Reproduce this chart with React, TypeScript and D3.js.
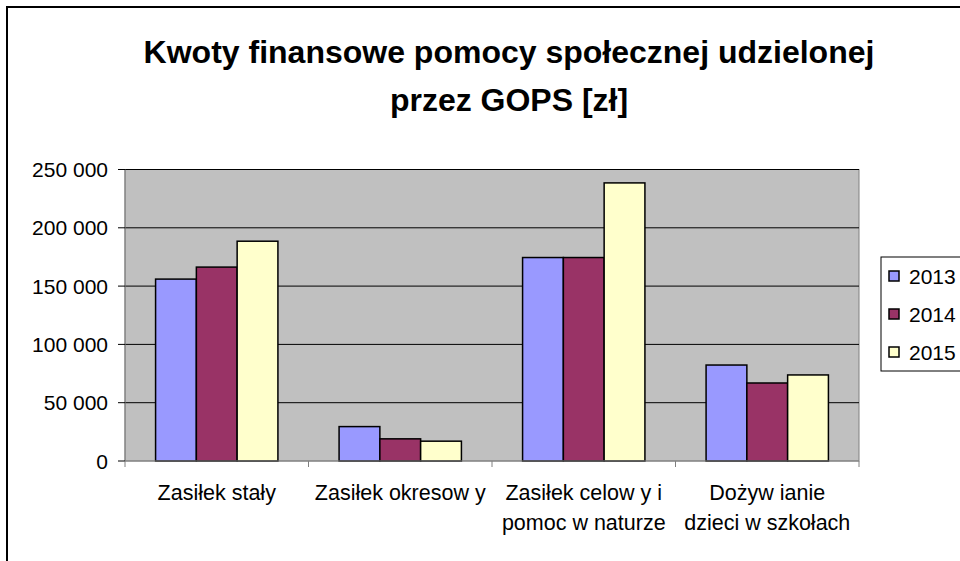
import React from "react";
import * as d3 from "d3";

const categories: string[][] = [
  ["Zasiłek stały"],
  ["Zasiłek okresow y"],
  ["Zasiłek celow y i", "pomoc w  naturze"],
  ["Dożyw ianie", "dzieci w  szkołach"],
];
const seriesNames = ["2013", "2014", "2015"];
const values2013 = [156000, 29500, 174500, 82300];
const values2014 = [166300, 19000, 174500, 66900];
const values2015 = [188500, 17000, 238500, 73800];
const seriesColors = ["#9999FF", "#993366", "#FFFFCC"];
const yTicks = [0, 50000, 100000, 150000, 200000, 250000];
const titleLines = ["Kwoty finansowe pomocy społecznej udzielonej", "przez GOPS [zł]"];

const W = 960;
const H = 561;
const FONT = "'Liberation Sans', Arial, sans-serif";

export default function App() {
  const left = 125, right = 859, top = 169.5, bottom = 461;
  const series = [values2013, values2014, values2015];
  const catIdx = categories.map((_, i) => String(i));
  const x = d3.scaleBand<string>().domain(catIdx).range([left, right]).padding(0);
  const xs = d3.scaleBand<string>().domain(seriesNames).range([0, x.bandwidth()]).paddingInner(0).paddingOuter(0.75);
  const y = d3.scaleLinear().domain([0, 250000]).range([bottom, top]);
  const fmt = (v: number) => d3.format(",")(v).replace(/,/g, " ");
  const boundaries = d3.range(categories.length + 1).map((i) => left + i * x.step());

  return (
    <svg width={W} height={H} style={{ position: "absolute", left: 0, top: 0, background: "#fff" }} fontFamily={FONT}>
      <rect x={7} y={7} width={1000} height={600} fill="#fff" stroke="#000" strokeWidth={2} />
      {titleLines.map((t, i) => (
        <text key={i} x={509} y={63 + i * 48} textAnchor="middle" fontSize={32} fontWeight="bold" fill="#000">
          {t}
        </text>
      ))}
      <rect x={left} y={top} width={right - left} height={bottom - top} fill="#C0C0C0" stroke="#808080" strokeWidth={1} />
      {yTicks.filter((t) => t > 0).map((t) => (
        <line key={t} x1={left} x2={right} y1={y(t)} y2={y(t)} stroke="#000" strokeWidth={1} />
      ))}
      {categories.map((_, ci) =>
        series.map((vals, si) => (
          <rect
            key={ci + "-" + si}
            x={(x(String(ci)) as number) + (xs(seriesNames[si]) as number)}
            y={y(vals[ci])}
            width={xs.bandwidth()}
            height={bottom - y(vals[ci])}
            fill={seriesColors[si]}
            stroke="#000"
            strokeWidth={1.5}
          />
        ))
      )}
      <line x1={left} x2={left} y1={top} y2={bottom} stroke="#808080" strokeWidth={1} />
      <line x1={left} x2={right} y1={bottom} y2={bottom} stroke="#808080" strokeWidth={1} />
      {yTicks.map((t) => (
        <g key={t}>
          <line x1={left - 7} x2={left} y1={y(t)} y2={y(t)} stroke="#000" strokeWidth={1} />
          <text x={108} y={y(t)} dy="0.36em" textAnchor="end" fontSize={21} fill="#000">
            {fmt(t)}
          </text>
        </g>
      ))}
      {boundaries.map((bx, i) => (
        <line key={i} x1={bx} x2={bx} y1={bottom} y2={bottom + 6} stroke="#808080" strokeWidth={1} />
      ))}
      {categories.map((lines, ci) => (
        <text key={ci} x={(x(String(ci)) as number) + x.bandwidth() / 2} textAnchor="middle" fontSize={21.5} fill="#000">
          {lines.map((l, li) => (
            <tspan key={li} x={(x(String(ci)) as number) + x.bandwidth() / 2} y={500 + li * 30}>
              {l}
            </tspan>
          ))}
        </text>
      ))}
      <rect x={881} y={257} width={100} height={114} fill="#fff" stroke="#000" strokeWidth={1} />
      {seriesNames.map((s, i) => (
        <g key={s}>
          <rect x={889} y={271 + i * 38} width={10} height={10} fill={seriesColors[i]} stroke="#000" strokeWidth={1.5} />
          <text x={909} y={276 + i * 38} dy="0.36em" fontSize={21} fill="#000">
            {s}
          </text>
        </g>
      ))}
    </svg>
  );
}
